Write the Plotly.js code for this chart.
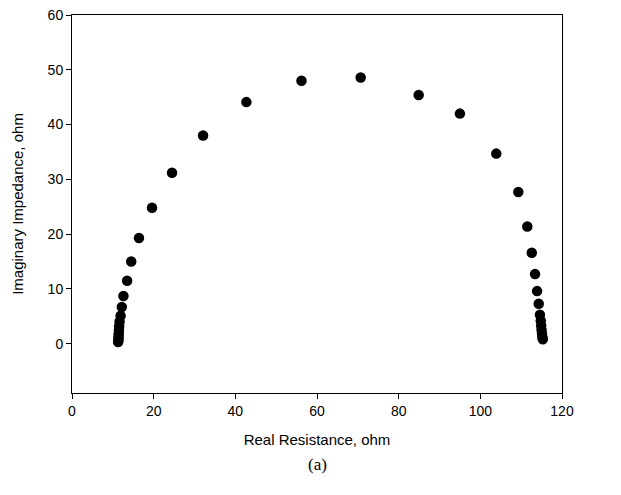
<!DOCTYPE html>
<html>
<head>
<meta charset="utf-8">
<script src="https://cdn.plot.ly/plotly-3.0.1.min.js"></script>
<style>html,body{margin:0;padding:0;background:#fff;}#chart{width:621px;height:495px;}</style>
</head>
<body>
<div id="chart"></div>
<script>
// Real resistance (ohm) and imaginary impedance (ohm)
const realResistance = [
  11.3, 11.35, 11.4, 11.4, 11.45, 11.5, 11.55, 11.65, 11.9, 12.2, 12.6, 13.5, 14.5, 16.4, 19.6,
  24.5, 32.1, 42.7, 56.2, 70.7, 84.9, 95.0, 103.9, 109.3,
  111.5, 112.6, 113.4, 113.9, 114.3, 114.6, 114.8, 114.9, 115.0, 115.1, 115.2, 115.3
];
const imaginaryImpedance = [
  0.3, 0.6, 1.0, 1.4, 1.9, 2.5, 3.2, 4.0, 5.1, 6.7, 8.7, 11.5, 15.0, 19.3, 24.8,
  31.2, 38.0, 44.1, 48.0, 48.6, 45.4, 42.0, 34.7, 27.7,
  21.4, 16.6, 12.7, 9.6, 7.3, 5.3, 4.2, 3.3, 2.5, 1.8, 1.2, 0.8
];
const xTicks = [0, 20, 40, 60, 80, 100, 120];
const yTicks = [0, 10, 20, 30, 40, 50, 60];

const trace = {
  x: realResistance,
  y: imaginaryImpedance,
  type: 'scatter',
  mode: 'markers',
  marker: {color: '#000000', size: 10.5, line: {width: 0}},
  hoverinfo: 'skip'
};

const axisFont = {family: 'Liberation Sans, Arial, sans-serif', size: 14, color: '#000'};
const titleFont = {family: 'Liberation Sans, Arial, sans-serif', size: 15, color: '#000'};

const layout = {
  width: 621,
  height: 495,
  margin: {l: 72, r: 59, t: 15, b: 102},
  paper_bgcolor: '#ffffff',
  plot_bgcolor: '#ffffff',
  showlegend: false,
  xaxis: {
    range: [0, 120],
    tickvals: xTicks,
    ticktext: xTicks.map(String),
    showgrid: false,
    zeroline: false,
    showline: true,
    linecolor: '#000',
    linewidth: 1,
    mirror: true,
    ticks: 'outside',
    ticklen: 5,
    tickcolor: '#000',
    tickfont: axisFont,
    title: {text: 'Real Resistance, ohm', font: titleFont, standoff: 16}
  },
  yaxis: {
    range: [-9, 60],
    tickvals: yTicks,
    ticktext: yTicks.map(String),
    showgrid: false,
    zeroline: false,
    showline: true,
    linecolor: '#000',
    linewidth: 1,
    mirror: true,
    ticks: 'outside',
    ticklen: 5,
    tickcolor: '#000',
    tickfont: axisFont,
    title: {text: 'Imaginary Impedance, ohm', font: titleFont, standoff: 20}
  },
  annotations: [{
    text: '(a)',
    xref: 'paper', yref: 'paper',
    x: 0.5, y: -0.19,
    xanchor: 'center', yanchor: 'middle',
    showarrow: false,
    font: {family: 'Liberation Serif, Times New Roman, serif', size: 17, color: '#000'}
  }]
};

Plotly.newPlot('chart', [trace], layout, {staticPlot: true, displayModeBar: false});
</script>
</body>
</html>
